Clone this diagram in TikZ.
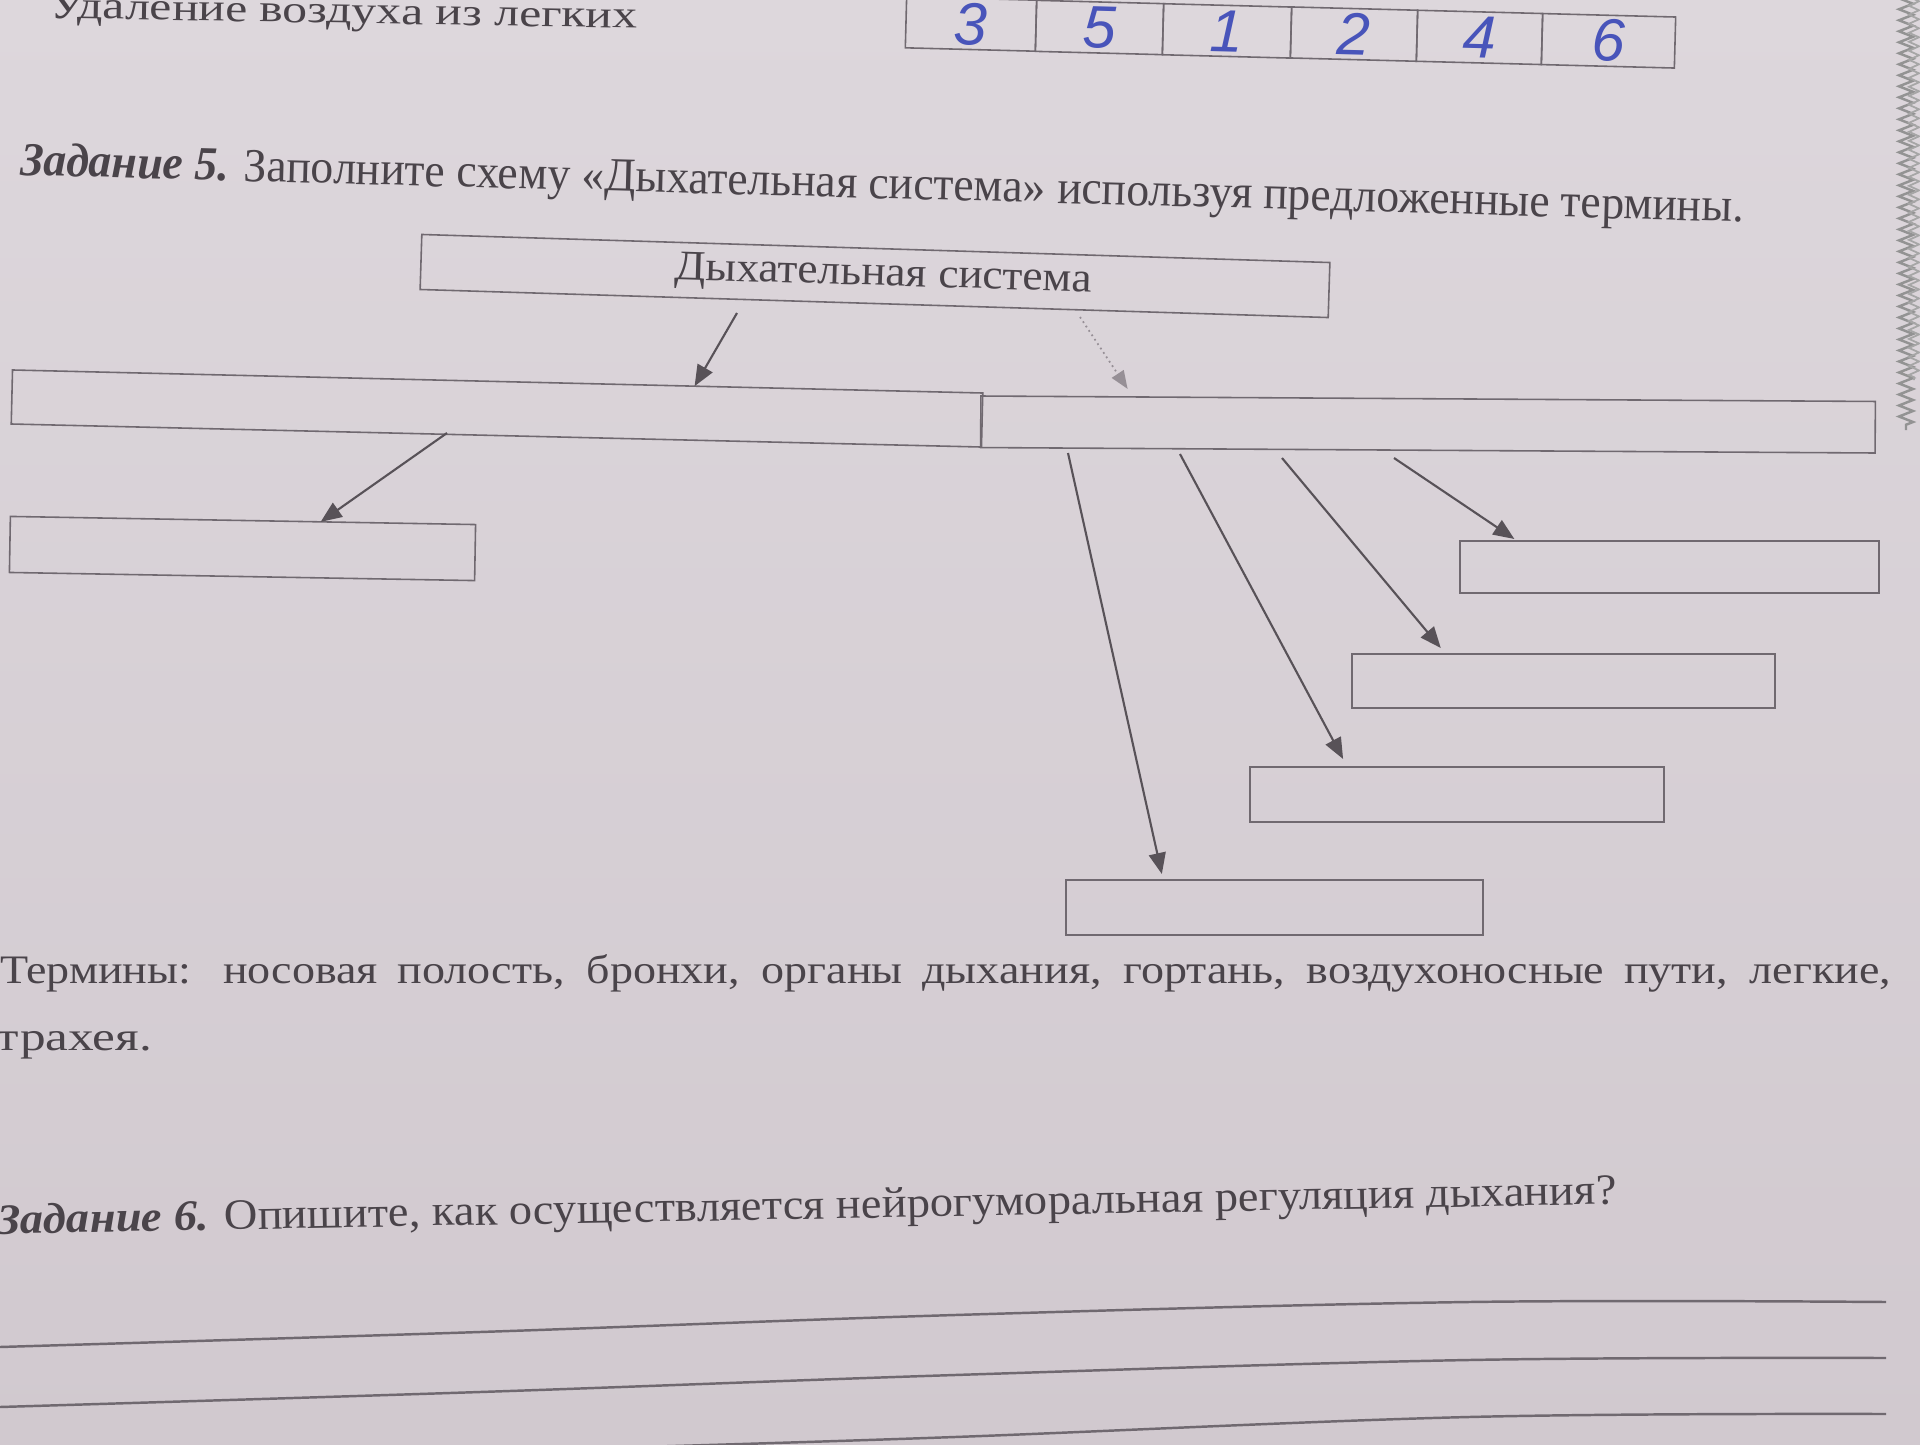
\documentclass[tikz,border=0pt]{standalone}
\usepackage{fontspec}
\usepackage{graphicx}
\setmainfont{Liberation Serif}
\newfontfamily\handfont{Liberation Sans}
\usetikzlibrary{arrows.meta,calc,decorations.pathmorphing}
\definecolor{paperA}{RGB}{221,215,220}
\definecolor{paperB}{RGB}{209,201,207}
\definecolor{inkgray}{RGB}{74,68,74}
\definecolor{linegray}{RGB}{112,105,112}
\definecolor{arrowgray}{RGB}{88,82,88}
\definecolor{fadegray}{RGB}{150,143,150}
\definecolor{penblue}{RGB}{72,84,186}
\begin{document}
\begin{tikzpicture}[x=0.01cm,y=-0.01cm,
  box/.style={draw=linegray, line width=0.45pt, rectangle, inner sep=0pt, outer sep=0pt},
  cell/.style={box, minimum height=0.51cm, rotate=-1.49, text=penblue, font={\handfont\itshape\fontsize{17}{18}\selectfont}},
  txt/.style={inner sep=0pt, outer sep=0pt, text=inkgray, anchor=base west},
  conn/.style={draw=arrowgray, line width=0.6pt, -{Triangle[length=0.21cm,width=0.17cm]}},
  fadearrow/.style={draw=fadegray, line width=0.5pt, densely dotted, -{Triangle[length=0.18cm,width=0.14cm,fill=fadegray]}},
  writeline/.style={draw=linegray, line width=0.7pt}
]
\useasboundingbox (0,0) rectangle (1920,1445);
\shade[top color=paperA, bottom color=paperB] (0,0) rectangle (1920,1445);
\clip (0,0) rectangle (1920,1445);

% previous task remnants
\node[txt, rotate=-1] (prev) at (49,18) {\fontsize{11}{13}\selectfont\resizebox{5.88cm}{\height}{Удаление воздуха из легких}};
\node[cell, minimum width=1.30cm] (t1) at (971,24) {\raisebox{-0.04cm}{3}};
\node[cell, minimum width=1.27cm] (t2) at (1099.5,27.5) {\raisebox{-0.06cm}{5}};
\node[cell, minimum width=1.28cm] (t3) at (1227,30.9) {\raisebox{-0.07cm}{1}};
\node[cell, minimum width=1.26cm] (t4) at (1354,34.1) {\raisebox{-0.1cm}{2}};
\node[cell, minimum width=1.25cm] (t5) at (1479.5,37.4) {\raisebox{-0.1cm}{4}};
\node[cell, minimum width=1.33cm] (t6) at (1608.5,40.8) {\raisebox{-0.06cm}{6}};

% heading
\node[txt, rotate=-1.56] (h5) at (20,175) {\fontsize{13.5}{15}\selectfont\resizebox{17.23cm}{\height}{\textbf{\textit{Задание 5.}} Заполните схему «Дыхательная система» используя предложенные термины.}};

% boxes
\node[box, minimum width=9.08cm, minimum height=0.55cm, rotate=-1.77, text=inkgray] (sys) at (875,276) {\hspace*{0.17cm}\raisebox{-0.05cm}{\fontsize{12}{14}\selectfont\resizebox{4.17cm}{\height}{Дыхательная система}}};
\node[box, minimum width=9.70cm, minimum height=0.54cm, rotate=-1.36] (BL) at (497,408.5) {};
\node[box, minimum width=8.94cm, minimum height=0.515cm, rotate=-0.35] (BR) at (1428,424.5) {};
\node[box, minimum width=4.65cm, minimum height=0.56cm, rotate=-1] (L) at (242.5,548.5) {};
\node[box, minimum width=4.19cm, minimum height=0.52cm] (R1) at (1669.5,567) {};
\node[box, minimum width=4.23cm, minimum height=0.54cm] (R2) at (1563.5,681) {};
\node[box, minimum width=4.14cm, minimum height=0.55cm] (R3) at (1457,794.5) {};
\node[box, minimum width=4.17cm, minimum height=0.55cm] (R4) at (1274.5,907.5) {};

% arrow start points
\coordinate (c1) at (737,313);
\coordinate (c2) at (1080,317);
\coordinate (c3) at (447,433);
\coordinate (s1) at (1068,453);
\coordinate (s2) at (1180,454);
\coordinate (s3) at (1282,458);
\coordinate (s4) at (1394,458);

\draw[conn] (c1) -- ($(BL.north west)!0.703!(BL.north east)$);
\draw[fadearrow] (c2) -- ($(BR.north west)!0.164!(BR.north east)+(0,-8)$);
\draw[conn] (c3) -- ($(L.north west)!0.667!(L.north east)$);
\draw[conn] (s1) -- ($(R4.north west)!0.23!(R4.north east)+(0,-6)$);
\draw[conn] (s2) -- ($(R3.north west)!0.225!(R3.north east)+(0,-8)$);
\draw[conn] (s3) -- ($(R2.north west)!0.21!(R2.north east)+(0,-6)$);
\draw[conn] (s4) -- ($(R1.north west)!0.13!(R1.north east)+(0,-2)$);

% terms
\node[txt] (terms) at (0,983) {\fontsize{11.5}{13}\selectfont\resizebox{18.9cm}{\height}{\makebox[16.6cm][s]{Термины: носовая полость, бронхи, органы дыхания, гортань, воздухоносные пути, легкие,}}};
\node[txt] (terms2) at (-3,1050) {\fontsize{11.5}{13}\selectfont\resizebox{1.55cm}{\height}{трахея.}};

% task 6
\node[txt, rotate=1.06] (h6) at (-3,1234) {\fontsize{12.3}{14}\selectfont\resizebox{16.19cm}{\height}{\textbf{\textit{Задание 6.}} Опишите, как осуществляется нейрогуморальная регуляция дыхания?}};

% answer lines
\draw[writeline] plot[smooth, tension=0.6] coordinates {(0,1347) (480,1332) (955,1315) (1469,1302) (1886,1302)};
\draw[writeline] plot[smooth, tension=0.6] coordinates {(0,1407) (480,1392) (955,1375) (1469,1360) (1886,1358)};
\draw[writeline] plot[smooth, tension=0.6] coordinates {(640,1447) (955,1437) (1469,1417) (1886,1414)};

% page edge
\draw[draw=gray!85, line width=0.7pt, decorate, decoration={zigzag, amplitude=0.07cm, segment length=0.11cm}] (1906,-10) -- (1906,430);
\draw[draw=gray!70, line width=0.5pt, decorate, decoration={zigzag, amplitude=0.05cm, segment length=0.09cm}] (1914,-10) -- (1914,380);
\end{tikzpicture}
\end{document}
